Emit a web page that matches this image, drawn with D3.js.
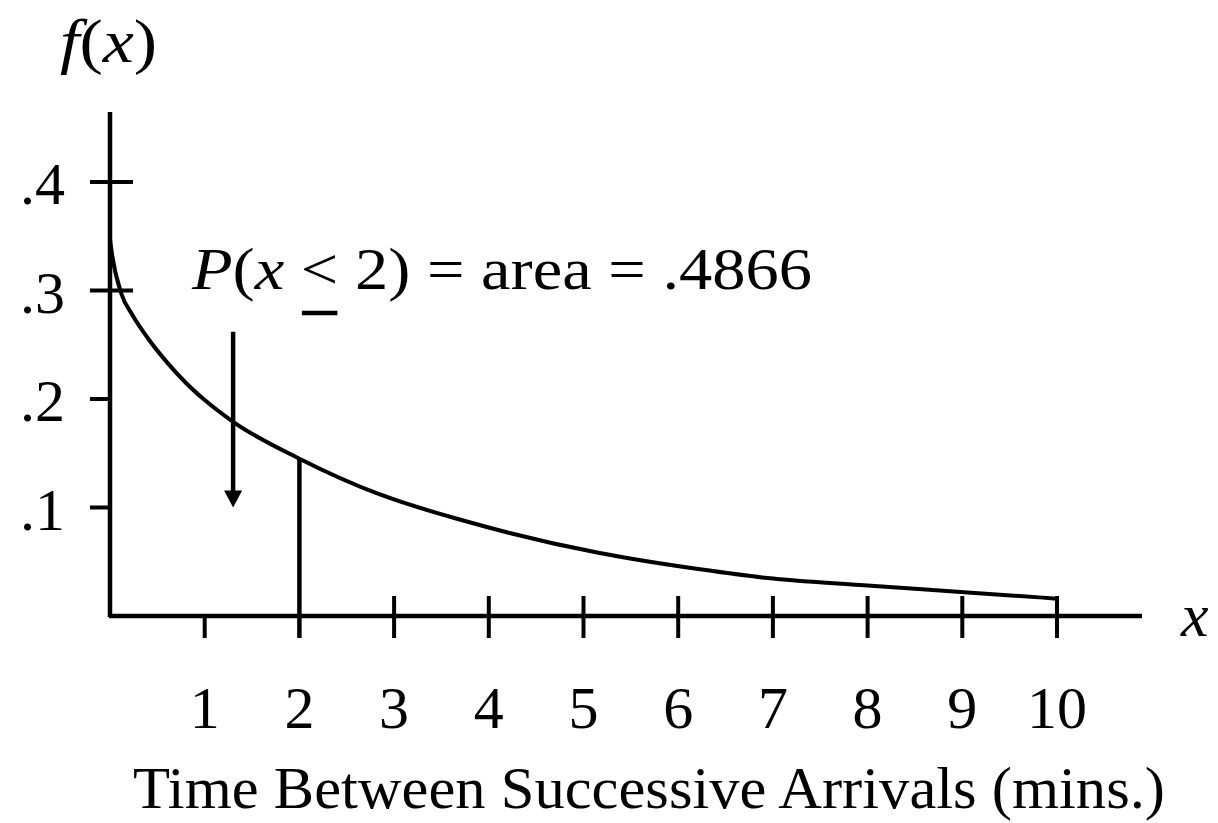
<!DOCTYPE html>
<html>
<head>
<meta charset="utf-8">
<script src="https://cdn.jsdelivr.net/npm/d3@7"></script>
<style>
  html, body { margin: 0; padding: 0; background: #fff; }
  svg { display: block; }
  text { font-family: "Liberation Serif", "Times New Roman", serif; fill: #000; }
</style>
</head>
<body>
<svg id="chart" width="1218" height="823"></svg>
<script>
// Exponential density of time between successive arrivals
const curveX = [0, 0.02, 0.12, 0.24, 0.4, 0.6, 0.8, 1.0, 1.3, 2, 2.85, 3.73, 5.17, 6.23, 6.94, 7.92, 9.02, 10];
const curveY = [0.347, 0.334, 0.297, 0.277, 0.256, 0.234, 0.215, 0.199, 0.179, 0.145, 0.112, 0.088, 0.058, 0.043, 0.035, 0.0285, 0.022, 0.016];
const xTicks = [1, 2, 3, 4, 5, 6, 7, 8, 9, 10];
const xTickLabels = ["1", "2", "3", "4", "5", "6", "7", "8", "9", "10"];
const yTicks = [0.1, 0.2, 0.3, 0.4];
const yTickLabels = [".1", ".2", ".3", ".4"];
const cutoff = 2;
const cutoffValue = 0.145;
const areaLabel = ".4866";
const arrowX = 1.3, arrowFrom = 0.262, arrowTo = 0.100;

const svg = d3.select("#chart");
const x = d3.scaleLinear().domain([0, 10]).range([110, 1057]);
const y = d3.scaleLinear().domain([0, 0.4]).range([616, 182]);

const ink = "#000";
const axisW = 4.5;
const tickW = 4;

// axes
svg.append("line").attr("x1", x(0)).attr("x2", x(0)).attr("y1", 112).attr("y2", y(0) + 1)
  .attr("stroke", ink).attr("stroke-width", axisW);
svg.append("line").attr("x1", x(0) - 1).attr("x2", 1142).attr("y1", y(0)).attr("y2", y(0))
  .attr("stroke", ink).attr("stroke-width", axisW);

// y ticks: upper two cross the axis, lower two only on the left
svg.selectAll(".ytick").data(yTicks).join("line")
  .attr("class", "ytick")
  .attr("x1", x(0) - 20)
  .attr("x2", d => d >= 0.3 ? x(0) + 23 : x(0))
  .attr("y1", d => y(d)).attr("y2", d => y(d))
  .attr("stroke", ink).attr("stroke-width", tickW);

svg.selectAll(".ylab").data(yTicks).join("text")
  .attr("class", "ylab")
  .attr("x", 65)
  .attr("y", d => y(d) + 22)
  .attr("text-anchor", "end")
  .attr("font-size", 60)
  .text((d, i) => yTickLabels[i]);

// x ticks
svg.selectAll(".xtick").data(xTicks.filter(d => d !== cutoff)).join("line")
  .attr("class", "xtick")
  .attr("x1", d => x(d)).attr("x2", d => x(d))
  .attr("y1", d => d === 1 ? y(0) : y(0) - 20)
  .attr("y2", y(0) + 22)
  .attr("stroke", ink).attr("stroke-width", tickW);

svg.selectAll(".xlab").data(xTicks).join("text")
  .attr("class", "xlab")
  .attr("x", d => x(d))
  .attr("y", 728)
  .attr("text-anchor", "middle")
  .attr("font-size", 60)
  .text((d, i) => xTickLabels[i]);

// density curve
const pts = curveX.map((d, i) => [d, curveY[i]]);
const line = d3.line().x(d => x(d[0])).y(d => y(d[1])).curve(d3.curveMonotoneX);
svg.append("path").datum(pts)
  .attr("d", line)
  .attr("fill", "none").attr("stroke", ink).attr("stroke-width", 4)
  .attr("stroke-linejoin", "round");

// boundary of the probability area at x = 2
svg.append("line")
  .attr("x1", x(cutoff)).attr("x2", x(cutoff))
  .attr("y1", y(cutoffValue)).attr("y2", y(0) + 22)
  .attr("stroke", ink).attr("stroke-width", 4.5);

// arrow pointing into the area
svg.append("line")
  .attr("x1", x(arrowX)).attr("x2", x(arrowX))
  .attr("y1", y(arrowFrom)).attr("y2", y(arrowTo) - 14)
  .attr("stroke", ink).attr("stroke-width", 4.5);
svg.append("path")
  .attr("d", `M${x(arrowX) - 9},${y(arrowTo) - 17} L${x(arrowX) + 9},${y(arrowTo) - 17} L${x(arrowX)},${y(arrowTo)} Z`)
  .attr("fill", ink);

// annotation: P(x < 2) = area = .4866 with underlined "<"
const ann = svg.append("text")
  .attr("x", 192).attr("y", 289)
  .attr("font-size", 60)
  .attr("textLength", 620).attr("lengthAdjust", "spacingAndGlyphs");
ann.append("tspan").attr("font-style", "italic").text("P");
ann.append("tspan").text("(");
ann.append("tspan").attr("font-style", "italic").text("x");
ann.append("tspan").text(" < 2) = area = " + areaLabel);
const annNode = ann.node();
const ltIndex = 4; // index of "<" in "P(x <"
const ltStart = annNode.getStartPositionOfChar(ltIndex);
const ltEnd = annNode.getEndPositionOfChar(ltIndex);
svg.append("line")
  .attr("x1", ltStart.x + 1).attr("x2", ltEnd.x - 1)
  .attr("y1", 313).attr("y2", 313)
  .attr("stroke", ink).attr("stroke-width", 4.5);

// y-axis title f(x)
const fx = svg.append("text")
  .attr("x", 60).attr("y", 62)
  .attr("font-size", 62)
  .attr("textLength", 97).attr("lengthAdjust", "spacingAndGlyphs");
fx.append("tspan").attr("font-style", "italic").text("f");
fx.append("tspan").text("(");
fx.append("tspan").attr("font-style", "italic").text("x");
fx.append("tspan").text(")");

// x-axis variable
svg.append("text")
  .attr("x", 1181).attr("y", 636)
  .attr("font-size", 62).attr("font-style", "italic")
  .text("x");

// x-axis title
svg.append("text")
  .attr("x", 133).attr("y", 808)
  .attr("font-size", 60)
  .attr("textLength", 1032).attr("lengthAdjust", "spacingAndGlyphs")
  .text("Time Between Successive Arrivals (mins.)");
</script>
</body>
</html>
